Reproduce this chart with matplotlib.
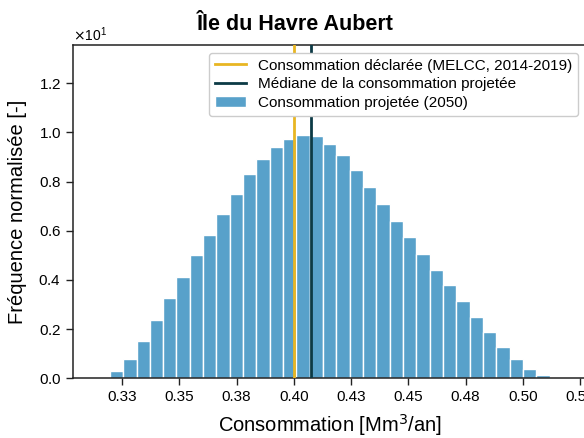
import matplotlib
matplotlib.use("Agg")
import matplotlib.pyplot as plt
import numpy as np

plt.rcParams['font.family'] = ['Liberation Sans', 'DejaVu Sans']

# ---- data ----
title = "Île du Havre Aubert"
xlabel = "Consommation [Mm$^3$/an]"
ylabel = "Fréquence normalisée [-]"

hist_start = 0.3196
hist_end = 0.5117
# normalised frequency (density) of each bin
heights = [0.30, 0.80, 1.52, 2.37, 3.27, 4.13, 5.00, 5.84, 6.67, 7.49,
           8.29, 8.92, 9.42, 9.73, 9.89, 9.84, 9.54, 9.09, 8.47, 7.76,
           7.07, 6.41, 5.73, 5.07, 4.40, 3.78, 3.13, 2.49, 1.87, 1.26,
           0.77, 0.39, 0.14]
declared = 0.400
median = 0.4076

xticks = [0.325, 0.35, 0.375, 0.40, 0.425, 0.45, 0.475, 0.50, 0.525]
xtick_labels = ["0.33", "0.35", "0.38", "0.40", "0.43", "0.45", "0.48", "0.50", "0.53"]

labels = ["Consommation déclarée (MELCC, 2014-2019)",
          "Médiane de la consommation projetée",
          "Consommation projetée (2050)"]

bar_color = "#58a1ca"
yellow = "#e8b622"
dark = "#0c3a45"

fig = plt.figure(figsize=(5.84, 4.38), dpi=100)
ax = fig.add_axes([73/584, (438-378.3)/438, 513/584, (378.3-45)/438])

edges = np.linspace(hist_start, hist_end, len(heights) + 1)
ax.bar(edges[:-1], heights, width=np.diff(edges), align='edge',
       color=bar_color, edgecolor='white', linewidth=1.0, label=labels[2], zorder=2)
ax.axvline(declared, color=yellow, lw=2, label=labels[0], zorder=3)
ax.axvline(median, color=dark, lw=2, label=labels[1], zorder=3)

ax.set_xlim(0.3035, 0.5276)
ax.set_ylim(0, 13.55)
ax.set_xticks(xticks)
ax.set_xticklabels(xtick_labels)
ax.set_yticks([0, 2, 4, 6, 8, 10, 12])
ax.ticklabel_format(axis='y', style='sci', scilimits=(0, 0), useMathText=True)
ax.tick_params(labelsize=11, length=5, width=1.0, color='#222222')
ax.yaxis.get_offset_text().set_fontsize(10)
for s in ax.spines.values():
    s.set_linewidth(1.1)
    s.set_color('#222222')

ax.set_xlabel(xlabel, fontsize=14.5, labelpad=6)
ax.set_ylabel(ylabel, fontsize=14.5, labelpad=8)

h, l = ax.get_legend_handles_labels()
order = [l.index(x) for x in labels]
ax.legend([h[i] for i in order], [l[i] for i in order], loc='upper right',
          fontsize=11, frameon=True, framealpha=1, edgecolor='#cccccc',
          borderpad=0.4, labelspacing=0.3, handletextpad=0.8)

fig.text(295/584, 1 - 24/438, title, ha='center', va='center',
         fontsize=15.5, fontweight='bold')

fig.savefig("out.png", dpi=100)
